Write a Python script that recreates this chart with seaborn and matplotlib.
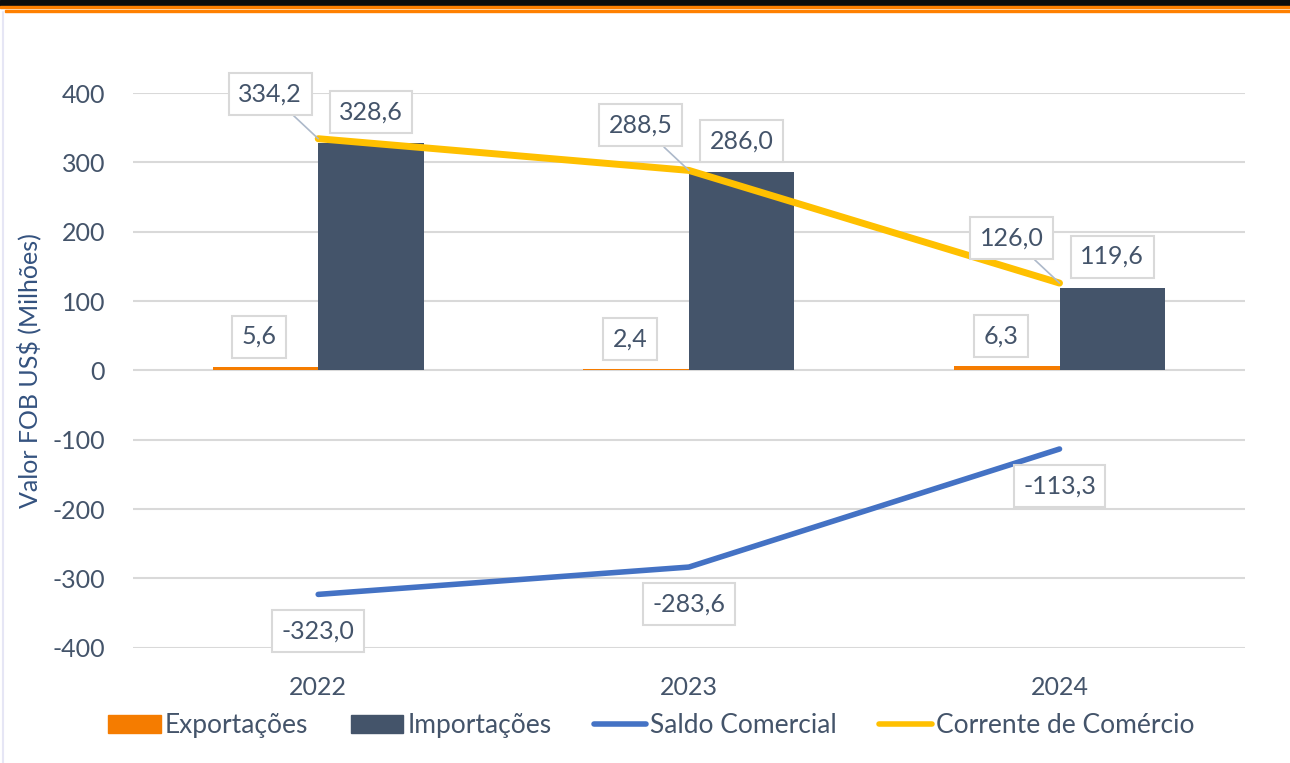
import numpy as np
import pandas as pd
import matplotlib
matplotlib.use("Agg")
import matplotlib.pyplot as plt
import matplotlib.ticker as mticker
import seaborn as sns
from matplotlib.patches import Patch
from matplotlib.lines import Line2D

# data
anos = ["2022", "2023", "2024"]
exportacoes = [5.6, 2.4, 6.3]
importacoes = [328.6, 286.0, 119.6]
saldo = [-323.0, -283.6, -113.3]
corrente = [334.2, 288.5, 126.0]

c_exp = "#F57C00"
c_imp = "#44546A"
c_saldo = "#4472C4"
c_corr = "#FFC000"
c_txt = "#44546A"

sns.set_theme(style="white")
plt.rcParams["font.family"] = ["Lato", "DejaVu Sans"]

df = pd.DataFrame({
    "ano": anos * 2,
    "serie": ["Exportações"] * 3 + ["Importações"] * 3,
    "valor": exportacoes + importacoes,
})

fig = plt.figure(figsize=(12.9, 7.63), dpi=100)
ax = fig.add_axes([0.103, 0.151, 0.862, 0.727])

sns.barplot(data=df, x="ano", y="valor", hue="serie", order=anos,
            hue_order=["Exportações", "Importações"],
            palette=[c_exp, c_imp], width=0.57, saturation=1,
            linewidth=0, legend=False, ax=ax, zorder=2)

pos = np.arange(len(anos))
sns.lineplot(x=pos, y=saldo, color=c_saldo, lw=4, ax=ax, zorder=3,
             solid_capstyle="round")
sns.lineplot(x=pos, y=corrente, color=c_corr, lw=5, ax=ax, zorder=4,
             solid_capstyle="round")

ax.set_xlim(-0.5, 2.5)
ax.set_ylim(-400, 400)
ax.set_yticks(range(-400, 401, 100))
ax.yaxis.set_major_formatter(mticker.FuncFormatter(lambda v, p: f"{v:.0f}"))
ax.yaxis.grid(True, color="#D9D9D9", lw=1.5)
ax.set_axisbelow(True)
for s in ax.spines.values():
    s.set_visible(False)
ax.tick_params(axis="both", length=0, labelsize=18, labelcolor=c_txt)
ax.tick_params(axis="y", pad=20)
ax.tick_params(axis="x", pad=20)
ax.set_xlabel("")
ax.set_ylabel("Valor FOB US$ (Milhões)", fontsize=18, color="#34527F")
ax.yaxis.set_label_coords(-0.082, 0.5)

def fmt(v):
    return f"{v:.1f}".replace(".", ",")

box = dict(boxstyle="square,pad=0.38", fc="white", ec="#D9D9D9", lw=1.5)

def label(x, y, v, dx, dy, leader=False):
    kw = dict(arrowprops=dict(arrowstyle="-", color="#ADB9CA", lw=1.2,
                              shrinkA=0, shrinkB=0)) if leader else {}
    ax.annotate(fmt(v), (x, y), xytext=(dx, dy), textcoords="offset pixels",
                ha="center", va="center", fontsize=18, color=c_txt,
                bbox=box, zorder=6, **kw)

bw = 0.285
for i in range(3):
    label(i - bw / 2, exportacoes[i], exportacoes[i], -6, 30)
    label(i + bw / 2, importacoes[i], importacoes[i], 0, 31)
    label(i, corrente[i], corrente[i], -48, 45, leader=True)
    label(i, saldo[i], saldo[i], 0, -37)

handles = [Patch(color=c_exp, label="Exportações"),
           Patch(color=c_imp, label="Importações"),
           Line2D([], [], color=c_saldo, lw=4, label="Saldo Comercial"),
           Line2D([], [], color=c_corr, lw=4, label="Corrente de Comércio")]
fig.legend(handles=handles, loc="center", bbox_to_anchor=(0.505, 0.049),
           ncol=4, frameon=False, fontsize=19, labelcolor=c_txt,
           handlelength=2.0, handletextpad=0.15, columnspacing=1.6)

# top decoration
fig.add_artist(plt.Rectangle((0, 1 - 6 / 763), 1, 6 / 763, color="#0D0D0D",
                             transform=fig.transFigure))
fig.add_artist(plt.Rectangle((0, 1 - 8 / 763), 1, 2 / 763, color="#FF8000",
                             transform=fig.transFigure))
fig.add_artist(plt.Rectangle((0.004, 1 - 11.5 / 763), 0.996, 1.5 / 763,
                             color="#FF8000", transform=fig.transFigure))
fig.add_artist(Line2D([0.0025, 0.0025], [0, 1 - 12 / 763], color="#E6E6F5",
                      lw=1.5, transform=fig.transFigure))

fig.savefig("out.png", dpi=100)
